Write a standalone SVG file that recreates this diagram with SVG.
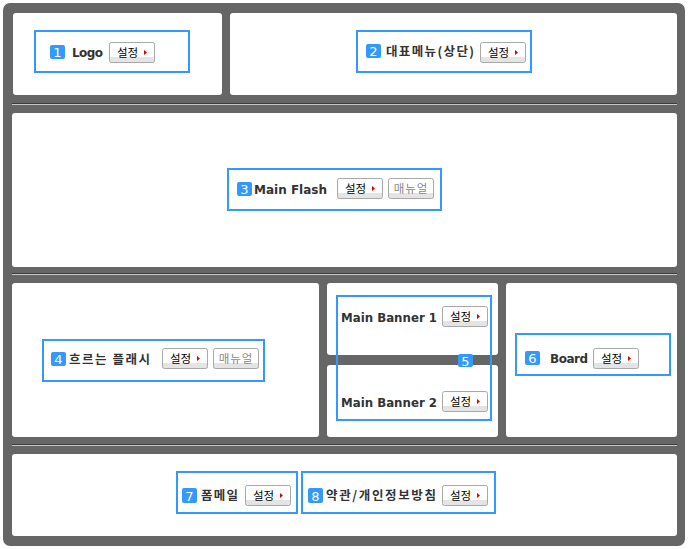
<svg xmlns="http://www.w3.org/2000/svg" width="688" height="549" viewBox="0 0 688 549">
<defs>
<linearGradient id="btn" x1="0" y1="0" x2="0" y2="1">
<stop offset="0" stop-color="#ffffff"/>
<stop offset="0.72" stop-color="#ffffff"/>
<stop offset="0.73" stop-color="#e4e4e4"/>
<stop offset="1" stop-color="#e4e4e4"/>
</linearGradient>
<g id="setbtn">
<rect x="0.5" y="0.5" width="45" height="20" rx="2" fill="url(#btn)" stroke="#a8a8a8"/>
<text x="18.5" y="14.5" class="bt">설정</text>
<polygon points="35,8 38,10.5 35,13" fill="#d80000"/>
</g>
<g id="manbtn">
<rect x="0.5" y="0.5" width="45" height="20" rx="2" fill="url(#btn)" stroke="#a8a8a8"/>
<text x="23" y="14.5" class="bm">매뉴얼</text>
</g>
</defs>
<style>
.panel{fill:#ffffff}
.box{fill:none;stroke:#3399ff;stroke-width:2}
.badge{fill:#3399ff}
.num{fill:#ffffff;font-family:"DejaVu Sans","Liberation Sans",sans-serif;font-size:13px;text-anchor:middle}
.lbl{fill:#333333;font-family:"DejaVu Sans","Noto Sans CJK KR",sans-serif;font-size:12px;font-weight:bold}
.kl{fill:#333333;font-family:"Noto Sans CJK KR",sans-serif;font-size:12.5px;font-weight:bold}
.bt{fill:#000000;font-family:"Noto Sans CJK KR",sans-serif;font-size:11.5px;text-anchor:middle}
.bm{fill:#888888;font-family:"Noto Sans CJK KR",sans-serif;font-size:11.5px;text-anchor:middle;letter-spacing:1px}
.sepd{stroke:#3c3c3c;stroke-width:1}
.sepl{stroke:#c8c8c8;stroke-width:1}
</style>
<rect x="3" y="3" width="682" height="543" rx="7" fill="#666666"/>
<g id="separators">
<line class="sepd" x1="12" y1="103.5" x2="677" y2="103.5"/>
<line class="sepl" x1="12" y1="104.5" x2="677" y2="104.5"/>
<line class="sepd" x1="12" y1="273.5" x2="677" y2="273.5"/>
<line class="sepl" x1="12" y1="274.5" x2="677" y2="274.5"/>
<line class="sepd" x1="12" y1="444.5" x2="677" y2="444.5"/>
<line class="sepl" x1="12" y1="445.5" x2="677" y2="445.5"/>
</g>
<g id="panels">
<rect class="panel" x="13" y="13" width="209" height="82" rx="3"/>
<rect class="panel" x="230" y="13" width="447" height="82" rx="3"/>
<rect class="panel" x="12" y="113" width="665" height="154" rx="3"/>
<rect class="panel" x="12" y="283" width="307" height="154" rx="3"/>
<rect class="panel" x="327" y="283" width="171" height="72" rx="3"/>
<rect class="panel" x="327" y="365" width="171" height="72" rx="3"/>
<rect class="panel" x="506" y="283" width="171" height="154" rx="3"/>
<rect class="panel" x="12" y="454" width="665" height="82" rx="3"/>
</g>
<g id="node1">
<rect class="box" x="35" y="31" width="154" height="41"/>
<rect class="badge" x="50" y="45" width="15" height="14" rx="2"/>
<text class="num" x="57.5" y="57">1</text>
<text class="lbl" x="72" y="57" textLength="31" lengthAdjust="spacing">Logo</text>
<use href="#setbtn" x="109" y="42"/>
</g>
<g id="node2">
<rect class="box" x="357" y="31" width="174" height="41"/>
<rect class="badge" x="366" y="44" width="15" height="14" rx="2"/>
<text class="num" x="373.5" y="56">2</text>
<text class="kl" x="386" y="56" textLength="88" lengthAdjust="spacing">대표메뉴(상단)</text>
<use href="#setbtn" x="480" y="42"/>
</g>
<g id="node3">
<rect class="box" x="228" y="169" width="213" height="41"/>
<rect class="badge" x="237" y="182" width="15" height="14" rx="2"/>
<text class="num" x="244.5" y="194">3</text>
<text class="lbl" x="254" y="194" textLength="73" lengthAdjust="spacing">Main Flash</text>
<use href="#setbtn" x="337" y="178"/>
<use href="#manbtn" x="388" y="178"/>
</g>
<g id="node4">
<rect class="box" x="43" y="340" width="221" height="41"/>
<rect class="badge" x="51" y="352" width="15" height="14" rx="2"/>
<text class="num" x="58.5" y="364">4</text>
<text class="kl" x="69" y="364" textLength="81" lengthAdjust="spacing">흐르는 플래시</text>
<use href="#setbtn" x="162" y="348"/>
<use href="#manbtn" x="213" y="348"/>
</g>
<g id="node5">
<rect class="box" x="337" y="296" width="154" height="124"/>
<rect class="badge" x="458" y="354" width="15" height="13" rx="2"/>
<text class="num" x="465.5" y="365.5">5</text>
<text class="lbl" x="341" y="322" textLength="96" lengthAdjust="spacingAndGlyphs">Main Banner 1</text>
<use href="#setbtn" x="442" y="306"/>
<text class="lbl" x="341" y="407" textLength="96" lengthAdjust="spacingAndGlyphs">Main Banner 2</text>
<use href="#setbtn" x="442" y="391"/>
</g>
<g id="node6">
<rect class="box" x="516" y="334" width="154" height="41"/>
<rect class="badge" x="525" y="351" width="15" height="14" rx="2"/>
<text class="num" x="532.5" y="363">6</text>
<text class="lbl" x="550" y="363" textLength="38" lengthAdjust="spacing">Board</text>
<use href="#setbtn" x="593" y="348"/>
</g>
<g id="node7">
<rect class="box" x="177" y="472" width="120" height="41"/>
<rect class="badge" x="182" y="488" width="15" height="15" rx="2"/>
<text class="num" x="189.5" y="500.5">7</text>
<text class="kl" x="201" y="500" textLength="37" lengthAdjust="spacing">폼메일</text>
<use href="#setbtn" x="245" y="485"/>
</g>
<g id="node8">
<rect class="box" x="302" y="472" width="193" height="41"/>
<rect class="badge" x="308" y="488" width="15" height="15" rx="2"/>
<text class="num" x="315.5" y="500.5">8</text>
<text class="kl" x="326" y="500" textLength="110" lengthAdjust="spacing">약관/개인정보방침</text>
<use href="#setbtn" x="442" y="485"/>
</g>
</svg>
